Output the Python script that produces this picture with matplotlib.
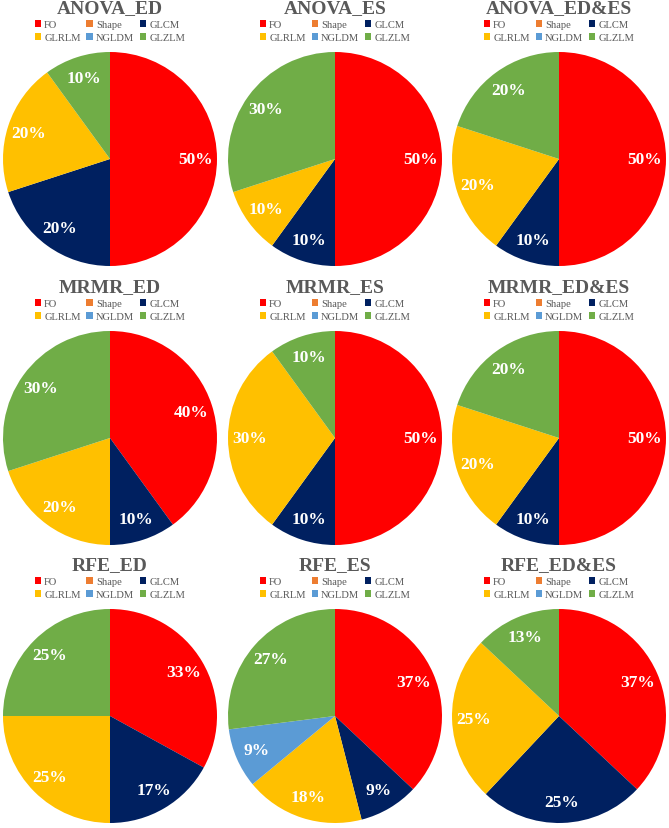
import matplotlib
matplotlib.use("Agg")
import matplotlib.pyplot as plt
from matplotlib.patches import Patch

categories = ["FO", "Shape", "GLCM", "GLRLM", "NGLDM", "GLZLM"]
colors = ["#FF0000", "#ED7D31", "#002060", "#FFC000", "#5B9BD5", "#70AD47"]

titles = ["ANOVA_ED", "ANOVA_ES", "ANOVA_ED&ES",
          "MRMR_ED", "MRMR_ES", "MRMR_ED&ES",
          "RFE_ED", "RFE_ES", "RFE_ED&ES"]

anova_ed = [50, 0, 20, 20, 0, 10]
anova_es = [50, 0, 10, 10, 0, 30]
anova_edes = [50, 0, 10, 20, 0, 20]
mrmr_ed = [40, 0, 10, 20, 0, 30]
mrmr_es = [50, 0, 10, 30, 0, 10]
mrmr_edes = [50, 0, 10, 20, 0, 20]
rfe_ed = [33, 0, 17, 25, 0, 25]
rfe_es = [37, 0, 9, 18, 9, 27]
rfe_edes = [37, 0, 25, 25, 0, 13]

all_values = [anova_ed, anova_es, anova_edes,
              mrmr_ed, mrmr_es, mrmr_edes,
              rfe_ed, rfe_es, rfe_edes]

W, H = 669, 829
fig = plt.figure(figsize=(W / 100, H / 100), dpi=100)

serif = ["Liberation Serif", "DejaVu Serif"]
gray = "#595959"

# pixel centres of each pie
cxs = [110, 335, 559]
cys = [160, 439, 717]
r = 107

# legend order so rows read FO Shape GLCM / GLRLM NGLDM GLZLM
order = [0, 3, 1, 4, 2, 5]
handles = [Patch(facecolor=colors[i], edgecolor="none") for i in order]
labels = [categories[i] for i in order]


def pct(p):
    return f"{p:.0f}%" if p > 0.5 else ""


for k in range(9):
    cx = cxs[k % 3]
    cy = cys[k // 3]
    ax = fig.add_axes([(cx - r) / W, 1 - (cy + r) / H, 2 * r / W, 2 * r / H])
    wedges, texts, autotexts = ax.pie(all_values[k], colors=colors, startangle=90,
                                      counterclock=False, autopct=pct, pctdistance=0.8,
                                      wedgeprops=dict(linewidth=0))
    for t in autotexts:
        t.set_color("white")
        t.set_fontweight("bold")
        t.set_fontsize(12.5)
        t.set_family(serif)
    ax.set_xlim(-1, 1)
    ax.set_ylim(-1, 1)
    ax.set_aspect("equal")

    ax.text(0.5, 0.5 + 151 / (2 * r), titles[k], transform=ax.transAxes,
            ha="center", va="center", fontsize=14, fontweight="bold",
            color=gray, family=serif)
    leg = ax.legend(handles, labels, ncol=3, loc="center",
                    bbox_to_anchor=(0.5, 0.5 + 128 / (2 * r)), frameon=False,
                    prop={"family": serif, "size": 7.6},
                    handlelength=0.6, handleheight=0.6, handletextpad=0.3,
                    columnspacing=0.55, labelspacing=0.35, borderpad=0)
    for t in leg.get_texts():
        t.set_color(gray)

fig.savefig("out.png", dpi=100)
